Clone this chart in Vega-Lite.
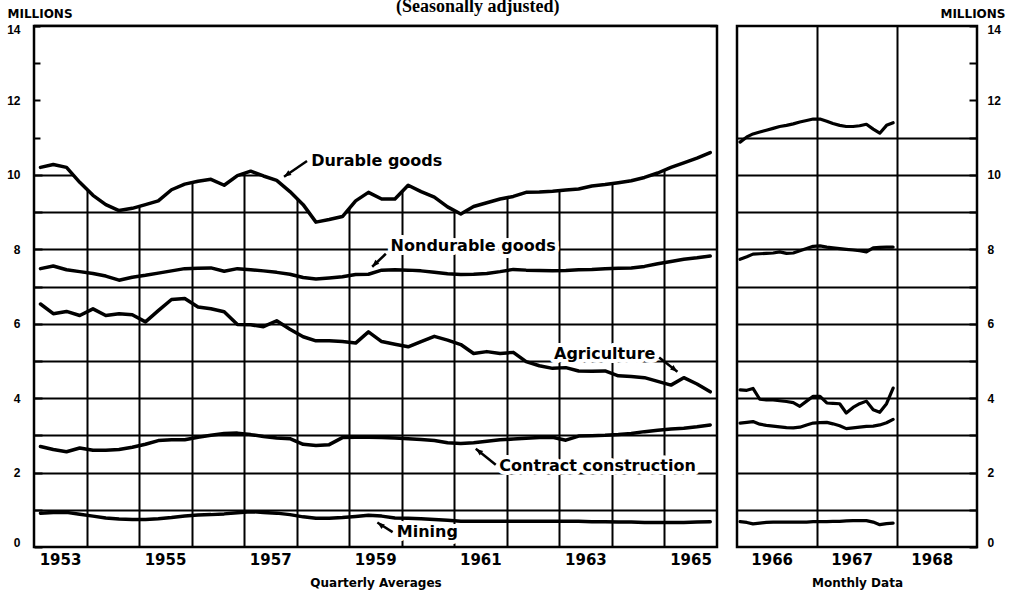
{
  "$schema": "https://vega.github.io/schema/vega-lite/v6.json",
  "padding": {"left": 5, "top": -3, "right": 5, "bottom": 0},
  "background": "white",
  "title": {"text": "(Seasonally adjusted)", "font": "Liberation Serif", "fontSize": 18, "fontWeight": "bold", "color": "black", "anchor": "middle", "offset": -10, "dx": -28},
  "spacing": 15,
  "datasets": {
    "quarterly": [
      {"d": "1953-02-15", "Durable goods": 10.2, "Nondurable goods": 7.48, "Agriculture": 6.53, "Contract construction": 2.70, "Mining": 0.91},
      {"d": "1953-05-15", "Durable goods": 10.28, "Nondurable goods": 7.55, "Agriculture": 6.27, "Contract construction": 2.62, "Mining": 0.93},
      {"d": "1953-08-15", "Durable goods": 10.2, "Nondurable goods": 7.45, "Agriculture": 6.33, "Contract construction": 2.56, "Mining": 0.93},
      {"d": "1953-11-15", "Durable goods": 9.8, "Nondurable goods": 7.4, "Agriculture": 6.22, "Contract construction": 2.66, "Mining": 0.88},
      {"d": "1954-02-15", "Durable goods": 9.45, "Nondurable goods": 7.35, "Agriculture": 6.4, "Contract construction": 2.6, "Mining": 0.83},
      {"d": "1954-05-15", "Durable goods": 9.2, "Nondurable goods": 7.28, "Agriculture": 6.22, "Contract construction": 2.6, "Mining": 0.78},
      {"d": "1954-08-15", "Durable goods": 9.04, "Nondurable goods": 7.17, "Agriculture": 6.27, "Contract construction": 2.62, "Mining": 0.75},
      {"d": "1954-11-15", "Durable goods": 9.1, "Nondurable goods": 7.25, "Agriculture": 6.24, "Contract construction": 2.68, "Mining": 0.74},
      {"d": "1955-02-15", "Durable goods": 9.2, "Nondurable goods": 7.3, "Agriculture": 6.05, "Contract construction": 2.76, "Mining": 0.74},
      {"d": "1955-05-15", "Durable goods": 9.3, "Nondurable goods": 7.36, "Agriculture": 6.35, "Contract construction": 2.86, "Mining": 0.76},
      {"d": "1955-08-15", "Durable goods": 9.6, "Nondurable goods": 7.42, "Agriculture": 6.65, "Contract construction": 2.88, "Mining": 0.79},
      {"d": "1955-11-15", "Durable goods": 9.75, "Nondurable goods": 7.48, "Agriculture": 6.68, "Contract construction": 2.88, "Mining": 0.83},
      {"d": "1956-02-15", "Durable goods": 9.83, "Nondurable goods": 7.49, "Agriculture": 6.45, "Contract construction": 2.95, "Mining": 0.86},
      {"d": "1956-05-15", "Durable goods": 9.88, "Nondurable goods": 7.5, "Agriculture": 6.4, "Contract construction": 3.0, "Mining": 0.87},
      {"d": "1956-08-15", "Durable goods": 9.72, "Nondurable goods": 7.41, "Agriculture": 6.32, "Contract construction": 3.05, "Mining": 0.89},
      {"d": "1956-11-15", "Durable goods": 9.98, "Nondurable goods": 7.48, "Agriculture": 5.98, "Contract construction": 3.06, "Mining": 0.92},
      {"d": "1957-02-15", "Durable goods": 10.1, "Nondurable goods": 7.45, "Agriculture": 5.97, "Contract construction": 3.02, "Mining": 0.95},
      {"d": "1957-05-15", "Durable goods": 9.97, "Nondurable goods": 7.42, "Agriculture": 5.92, "Contract construction": 2.97, "Mining": 0.93},
      {"d": "1957-08-15", "Durable goods": 9.85, "Nondurable goods": 7.38, "Agriculture": 6.08, "Contract construction": 2.93, "Mining": 0.91},
      {"d": "1957-11-15", "Durable goods": 9.55, "Nondurable goods": 7.33, "Agriculture": 5.85, "Contract construction": 2.91, "Mining": 0.87},
      {"d": "1958-02-15", "Durable goods": 9.2, "Nondurable goods": 7.24, "Agriculture": 5.65, "Contract construction": 2.76, "Mining": 0.81},
      {"d": "1958-05-15", "Durable goods": 8.73, "Nondurable goods": 7.2, "Agriculture": 5.54, "Contract construction": 2.73, "Mining": 0.77},
      {"d": "1958-08-15", "Durable goods": 8.8, "Nondurable goods": 7.23, "Agriculture": 5.54, "Contract construction": 2.75, "Mining": 0.77},
      {"d": "1958-11-15", "Durable goods": 8.88, "Nondurable goods": 7.26, "Agriculture": 5.52, "Contract construction": 2.94, "Mining": 0.79},
      {"d": "1959-02-15", "Durable goods": 9.3, "Nondurable goods": 7.32, "Agriculture": 5.48, "Contract construction": 2.95, "Mining": 0.82},
      {"d": "1959-05-15", "Durable goods": 9.53, "Nondurable goods": 7.33, "Agriculture": 5.78, "Contract construction": 2.95, "Mining": 0.85},
      {"d": "1959-08-15", "Durable goods": 9.35, "Nondurable goods": 7.44, "Agriculture": 5.52, "Contract construction": 2.94, "Mining": 0.83},
      {"d": "1959-11-15", "Durable goods": 9.35, "Nondurable goods": 7.45, "Agriculture": 5.45, "Contract construction": 2.93, "Mining": 0.78},
      {"d": "1960-02-15", "Durable goods": 9.72, "Nondurable goods": 7.44, "Agriculture": 5.38, "Contract construction": 2.91, "Mining": 0.77},
      {"d": "1960-05-15", "Durable goods": 9.55, "Nondurable goods": 7.42, "Agriculture": 5.52, "Contract construction": 2.89, "Mining": 0.76},
      {"d": "1960-08-15", "Durable goods": 9.4, "Nondurable goods": 7.38, "Agriculture": 5.66, "Contract construction": 2.86, "Mining": 0.74},
      {"d": "1960-11-15", "Durable goods": 9.14, "Nondurable goods": 7.34, "Agriculture": 5.56, "Contract construction": 2.8, "Mining": 0.72},
      {"d": "1961-02-15", "Durable goods": 8.95, "Nondurable goods": 7.32, "Agriculture": 5.44, "Contract construction": 2.78, "Mining": 0.69},
      {"d": "1961-05-15", "Durable goods": 9.15, "Nondurable goods": 7.33, "Agriculture": 5.2, "Contract construction": 2.8, "Mining": 0.69},
      {"d": "1961-08-15", "Durable goods": 9.25, "Nondurable goods": 7.35, "Agriculture": 5.25, "Contract construction": 2.84, "Mining": 0.69},
      {"d": "1961-11-15", "Durable goods": 9.35, "Nondurable goods": 7.4, "Agriculture": 5.2, "Contract construction": 2.88, "Mining": 0.69},
      {"d": "1962-02-15", "Durable goods": 9.42, "Nondurable goods": 7.46, "Agriculture": 5.23, "Contract construction": 2.9, "Mining": 0.69},
      {"d": "1962-05-15", "Durable goods": 9.53, "Nondurable goods": 7.44, "Agriculture": 4.98, "Contract construction": 2.92, "Mining": 0.69},
      {"d": "1962-08-15", "Durable goods": 9.54, "Nondurable goods": 7.43, "Agriculture": 4.87, "Contract construction": 2.94, "Mining": 0.69},
      {"d": "1962-11-15", "Durable goods": 9.56, "Nondurable goods": 7.42, "Agriculture": 4.8, "Contract construction": 2.95, "Mining": 0.69},
      {"d": "1963-02-15", "Durable goods": 9.59, "Nondurable goods": 7.43, "Agriculture": 4.82, "Contract construction": 2.87, "Mining": 0.69},
      {"d": "1963-05-15", "Durable goods": 9.62, "Nondurable goods": 7.45, "Agriculture": 4.73, "Contract construction": 2.98, "Mining": 0.69},
      {"d": "1963-08-15", "Durable goods": 9.7, "Nondurable goods": 7.46, "Agriculture": 4.72, "Contract construction": 2.99, "Mining": 0.68},
      {"d": "1963-11-15", "Durable goods": 9.74, "Nondurable goods": 7.48, "Agriculture": 4.73, "Contract construction": 3.0, "Mining": 0.68},
      {"d": "1964-02-15", "Durable goods": 9.79, "Nondurable goods": 7.49, "Agriculture": 4.6, "Contract construction": 3.02, "Mining": 0.67},
      {"d": "1964-05-15", "Durable goods": 9.84, "Nondurable goods": 7.5, "Agriculture": 4.58, "Contract construction": 3.05, "Mining": 0.67},
      {"d": "1964-08-15", "Durable goods": 9.93, "Nondurable goods": 7.54, "Agriculture": 4.55, "Contract construction": 3.1, "Mining": 0.66},
      {"d": "1964-11-15", "Durable goods": 10.05, "Nondurable goods": 7.61, "Agriculture": 4.45, "Contract construction": 3.14, "Mining": 0.66},
      {"d": "1965-02-15", "Durable goods": 10.2, "Nondurable goods": 7.67, "Agriculture": 4.35, "Contract construction": 3.17, "Mining": 0.66},
      {"d": "1965-05-15", "Durable goods": 10.32, "Nondurable goods": 7.73, "Agriculture": 4.55, "Contract construction": 3.19, "Mining": 0.66},
      {"d": "1965-08-15", "Durable goods": 10.45, "Nondurable goods": 7.77, "Agriculture": 4.38, "Contract construction": 3.23, "Mining": 0.67},
      {"d": "1965-11-15", "Durable goods": 10.6, "Nondurable goods": 7.82, "Agriculture": 4.17, "Contract construction": 3.28, "Mining": 0.68}
    ],
    "monthly": [
      {"d": "1966-01-15", "Durable goods": 10.88, "Nondurable goods": 7.73, "Agriculture": 4.22, "Contract construction": 3.33, "Mining": 0.68},
      {"d": "1966-02-15", "Durable goods": 11.02, "Nondurable goods": 7.8, "Agriculture": 4.21, "Contract construction": 3.35, "Mining": 0.66},
      {"d": "1966-03-15", "Durable goods": 11.1, "Nondurable goods": 7.87, "Agriculture": 4.26, "Contract construction": 3.37, "Mining": 0.62},
      {"d": "1966-04-15", "Durable goods": 11.15, "Nondurable goods": 7.88, "Agriculture": 3.97, "Contract construction": 3.3, "Mining": 0.64},
      {"d": "1966-05-15", "Durable goods": 11.2, "Nondurable goods": 7.89, "Agriculture": 3.95, "Contract construction": 3.27, "Mining": 0.66},
      {"d": "1966-06-15", "Durable goods": 11.25, "Nondurable goods": 7.9, "Agriculture": 3.95, "Contract construction": 3.25, "Mining": 0.67},
      {"d": "1966-07-15", "Durable goods": 11.3, "Nondurable goods": 7.93, "Agriculture": 3.93, "Contract construction": 3.23, "Mining": 0.67},
      {"d": "1966-08-15", "Durable goods": 11.33, "Nondurable goods": 7.89, "Agriculture": 3.91, "Contract construction": 3.21, "Mining": 0.67},
      {"d": "1966-09-15", "Durable goods": 11.37, "Nondurable goods": 7.9, "Agriculture": 3.88, "Contract construction": 3.2, "Mining": 0.67},
      {"d": "1966-10-15", "Durable goods": 11.42, "Nondurable goods": 7.96, "Agriculture": 3.78, "Contract construction": 3.22, "Mining": 0.67},
      {"d": "1966-11-15", "Durable goods": 11.46, "Nondurable goods": 8.02, "Agriculture": 3.92, "Contract construction": 3.28, "Mining": 0.67},
      {"d": "1966-12-15", "Durable goods": 11.5, "Nondurable goods": 8.08, "Agriculture": 4.05, "Contract construction": 3.33, "Mining": 0.68},
      {"d": "1967-01-15", "Durable goods": 11.5, "Nondurable goods": 8.09, "Agriculture": 4.05, "Contract construction": 3.34, "Mining": 0.68},
      {"d": "1967-02-15", "Durable goods": 11.44, "Nondurable goods": 8.06, "Agriculture": 3.87, "Contract construction": 3.35, "Mining": 0.68},
      {"d": "1967-03-15", "Durable goods": 11.38, "Nondurable goods": 8.04, "Agriculture": 3.86, "Contract construction": 3.31, "Mining": 0.69},
      {"d": "1967-04-15", "Durable goods": 11.33, "Nondurable goods": 8.02, "Agriculture": 3.85, "Contract construction": 3.26, "Mining": 0.69},
      {"d": "1967-05-15", "Durable goods": 11.3, "Nondurable goods": 8.0, "Agriculture": 3.6, "Contract construction": 3.18, "Mining": 0.7},
      {"d": "1967-06-15", "Durable goods": 11.3, "Nondurable goods": 7.98, "Agriculture": 3.75, "Contract construction": 3.2, "Mining": 0.71},
      {"d": "1967-07-15", "Durable goods": 11.32, "Nondurable goods": 7.96, "Agriculture": 3.85, "Contract construction": 3.22, "Mining": 0.71},
      {"d": "1967-08-15", "Durable goods": 11.36, "Nondurable goods": 7.93, "Agriculture": 3.92, "Contract construction": 3.24, "Mining": 0.71},
      {"d": "1967-09-15", "Durable goods": 11.23, "Nondurable goods": 8.04, "Agriculture": 3.69, "Contract construction": 3.25, "Mining": 0.67},
      {"d": "1967-10-15", "Durable goods": 11.12, "Nondurable goods": 8.05, "Agriculture": 3.62, "Contract construction": 3.28, "Mining": 0.6},
      {"d": "1967-11-15", "Durable goods": 11.33, "Nondurable goods": 8.06, "Agriculture": 3.85, "Contract construction": 3.34, "Mining": 0.63},
      {"d": "1967-12-15", "Durable goods": 11.4, "Nondurable goods": 8.06, "Agriculture": 4.27, "Contract construction": 3.43, "Mining": 0.64}
    ],
    "notes": [
      {"label": "Durable goods", "d": "1958-04-12", "v": 10.37, "td": "1958-03-14", "tv": 10.37, "hd": "1957-10-05", "hv": 9.95},
      {"label": "Nondurable goods", "d": "1959-10-16", "v": 8.1, "td": "1959-09-13", "tv": 7.88, "hd": "1959-06-10", "hv": 7.53},
      {"label": "Agriculture", "d": "1962-11-25", "v": 5.18, "td": "1964-11-25", "tv": 5.09, "hd": "1965-04-01", "hv": 4.71},
      {"label": "Contract construction", "d": "1961-11-10", "v": 2.18, "td": "1961-10-16", "tv": 2.21, "hd": "1961-05-30", "hv": 2.64},
      {"label": "Mining", "d": "1959-11-28", "v": 0.4, "td": "1959-10-30", "tv": 0.4, "hd": "1959-07-16", "hv": 0.66}
    ]
  },
  "hconcat": [
    {
      "width": 683,
      "height": 521,
      "layer": [
        {
          "data": {"name": "quarterly"},
          "mark": {"type": "area", "color": "white", "opacity": 1},
          "encoding": {
            "x": {
              "field": "d", "type": "temporal",
              "scale": {"type": "utc", "domain": [{"year": 1953, "month": 1, "date": 1, "utc": true}, {"year": 1966, "month": 1, "date": 1, "utc": true}]},
              "axis": {
                "values": [
                  {"year": 1953, "month": 7, "date": 1, "utc": true},
                  {"year": 1954, "month": 1, "date": 1, "utc": true}, {"year": 1955, "month": 1, "date": 1, "utc": true},
                  {"year": 1955, "month": 7, "date": 1, "utc": true},
                  {"year": 1956, "month": 1, "date": 1, "utc": true}, {"year": 1957, "month": 1, "date": 1, "utc": true},
                  {"year": 1957, "month": 7, "date": 1, "utc": true},
                  {"year": 1958, "month": 1, "date": 1, "utc": true}, {"year": 1959, "month": 1, "date": 1, "utc": true},
                  {"year": 1959, "month": 7, "date": 1, "utc": true},
                  {"year": 1960, "month": 1, "date": 1, "utc": true}, {"year": 1961, "month": 1, "date": 1, "utc": true},
                  {"year": 1961, "month": 7, "date": 1, "utc": true},
                  {"year": 1962, "month": 1, "date": 1, "utc": true}, {"year": 1963, "month": 1, "date": 1, "utc": true},
                  {"year": 1963, "month": 7, "date": 1, "utc": true},
                  {"year": 1964, "month": 1, "date": 1, "utc": true}, {"year": 1965, "month": 1, "date": 1, "utc": true},
                  {"year": 1965, "month": 7, "date": 1, "utc": true}
                ],
                "tickCount": 60,
                "ticks": false,
                "domain": false,
                "grid": true,
                "gridColor": "black",
                "gridWidth": 2,
                "gridOpacity": {"condition": {"test": "utcmonth(datum.value) != 0", "value": 0}, "value": 1},
                "labelExpr": "utcmonth(datum.value) == 6 ? utcFormat(datum.value, '%Y') : ''",
                "labelFont": "DejaVu Sans", "labelFontSize": 15, "labelFontWeight": "bold", "labelColor": "black",
                "labelPadding": 5, "labelOverlap": false, "labelFlush": false,
                "title": "Quarterly Averages",
                "titleFont": "DejaVu Sans", "titleFontSize": 12, "titleFontWeight": "bold", "titleColor": "black",
                "titlePadding": 10
              }
            },
            "y": {
              "field": "Durable goods", "type": "quantitative",
              "scale": {"domain": [0, 14], "nice": false, "zero": true},
              "axis": {
                "orient": "left",
                "values": [0, 1, 2, 3, 4, 5, 6, 7, 8, 9, 10, 11, 12, 13, 14],
                "tickCount": 60,
                "domain": false,
                "grid": true,
                "gridColor": "black",
                "gridWidth": 2,
                "gridOpacity": {"condition": {"test": "datum.value > 10 || datum.value == 0", "value": 0}, "value": 1},
                "tickSize": -8, "tickWidth": 2, "tickColor": "black",
                "labelExpr": "datum.value % 2 == 0 ? format(datum.value, 'd') : ''",
                "labelFont": "Liberation Sans", "labelFontSize": 12, "labelFontWeight": "bold", "labelColor": "black",
                "labelPadding": 22, "labelFlush": true, "labelFlushOffset": 2, "labelOverlap": false,
                "title": "MILLIONS",
                "titleAngle": 0, "titleAlign": "left", "titleBaseline": "middle",
                "titleX": -27, "titleY": -13,
                "titleFont": "DejaVu Sans", "titleFontSize": 12, "titleFontWeight": "bold", "titleColor": "black"
              }
            },
            "y2": {"datum": 14}
          }
        },
        {
          "data": {"name": "notes"},
          "mark": {"type": "text", "align": "left", "baseline": "middle", "font": "DejaVu Sans", "fontSize": 16, "fontWeight": "bold", "stroke": "white", "strokeWidth": 8, "strokeJoin": "round", "fill": "white"},
          "encoding": {
            "x": {"field": "d", "type": "temporal"},
            "y": {"field": "v", "type": "quantitative"},
            "text": {"field": "label"}
          }
        },
        {
          "data": {"name": "notes"},
          "mark": {"type": "text", "align": "left", "baseline": "middle", "font": "DejaVu Sans", "fontSize": 16, "fontWeight": "bold", "fill": "black"},
          "encoding": {
            "x": {"field": "d", "type": "temporal"},
            "y": {"field": "v", "type": "quantitative"},
            "text": {"field": "label"}
          }
        },
        {
          "data": {"name": "notes"},
          "mark": {"type": "rule", "color": "black", "strokeWidth": 2.5},
          "encoding": {
            "x": {"field": "td", "type": "temporal"},
            "y": {"field": "tv", "type": "quantitative"},
            "x2": {"field": "hd"},
            "y2": {"field": "hv"}
          }
        },
        {
          "data": {"name": "notes"},
          "transform": [{"filter": "datum.label == 'Durable goods'"}],
          "mark": {"type": "point", "shape": "M0,0L0.7,1.8L-0.7,1.8Z", "filled": true, "color": "black", "opacity": 1, "size": 64, "angle": 235},
          "encoding": {"x": {"field": "hd", "type": "temporal"}, "y": {"field": "hv", "type": "quantitative"}}
        },
        {
          "data": {"name": "notes"},
          "transform": [{"filter": "datum.label == 'Nondurable goods'"}],
          "mark": {"type": "point", "shape": "M0,0L0.7,1.8L-0.7,1.8Z", "filled": true, "color": "black", "opacity": 1, "size": 64, "angle": 225},
          "encoding": {"x": {"field": "hd", "type": "temporal"}, "y": {"field": "hv", "type": "quantitative"}}
        },
        {
          "data": {"name": "notes"},
          "transform": [{"filter": "datum.label == 'Agriculture'"}],
          "mark": {"type": "point", "shape": "M0,0L0.7,1.8L-0.7,1.8Z", "filled": true, "color": "black", "opacity": 1, "size": 64, "angle": 128},
          "encoding": {"x": {"field": "hd", "type": "temporal"}, "y": {"field": "hv", "type": "quantitative"}}
        },
        {
          "data": {"name": "notes"},
          "transform": [{"filter": "datum.label == 'Contract construction'"}],
          "mark": {"type": "point", "shape": "M0,0L0.7,1.8L-0.7,1.8Z", "filled": true, "color": "black", "opacity": 1, "size": 64, "angle": 308},
          "encoding": {"x": {"field": "hd", "type": "temporal"}, "y": {"field": "hv", "type": "quantitative"}}
        },
        {
          "data": {"name": "notes"},
          "transform": [{"filter": "datum.label == 'Mining'"}],
          "mark": {"type": "point", "shape": "M0,0L0.7,1.8L-0.7,1.8Z", "filled": true, "color": "black", "opacity": 1, "size": 64, "angle": 306},
          "encoding": {"x": {"field": "hd", "type": "temporal"}, "y": {"field": "hv", "type": "quantitative"}}
        },
        {
          "data": {"name": "quarterly"},
          "transform": [{"fold": ["Durable goods", "Nondurable goods", "Agriculture", "Contract construction", "Mining"], "as": ["series", "value"]}],
          "mark": {"type": "line", "color": "black", "strokeWidth": 3.5, "strokeJoin": "round", "strokeCap": "round"},
          "encoding": {
            "x": {"field": "d", "type": "temporal"},
            "y": {"field": "value", "type": "quantitative"},
            "detail": {"field": "series"}
          }
        },
        {
          "data": {"values": [{}]},
          "mark": {"type": "rule", "color": "black", "strokeWidth": 2.5},
          "encoding": {"y": {"datum": 14}}
        }
      ]
    },
    {
      "width": 240,
      "height": 521,
      "data": {"name": "monthly"},
      "transform": [{"fold": ["Durable goods", "Nondurable goods", "Agriculture", "Contract construction", "Mining"], "as": ["series", "value"]}],
      "mark": {"type": "line", "color": "black", "strokeWidth": 3.2, "strokeJoin": "round", "strokeCap": "round"},
      "encoding": {
        "x": {
          "field": "d", "type": "temporal",
          "scale": {"type": "utc", "domain": [{"year": 1966, "month": 1, "date": 1, "utc": true}, {"year": 1969, "month": 1, "date": 1, "utc": true}]},
          "axis": {
            "values": [
              {"year": 1966, "month": 7, "date": 1, "utc": true},
              {"year": 1967, "month": 1, "date": 1, "utc": true},
              {"year": 1967, "month": 7, "date": 1, "utc": true},
              {"year": 1968, "month": 1, "date": 1, "utc": true},
              {"year": 1968, "month": 7, "date": 1, "utc": true}
            ],
            "tickCount": 60,
            "ticks": false,
            "domain": false,
            "grid": true,
            "gridColor": "black",
            "gridWidth": 2,
            "gridOpacity": {"condition": {"test": "utcmonth(datum.value) != 0", "value": 0}, "value": 1},
            "labelExpr": "utcmonth(datum.value) == 6 ? utcFormat(datum.value, '%Y') : ''",
            "labelFont": "DejaVu Sans", "labelFontSize": 15, "labelFontWeight": "bold", "labelColor": "black",
            "labelPadding": 5, "labelOverlap": false, "labelFlush": false, "labelOffset": -5,
            "title": "Monthly Data",
            "titleFont": "DejaVu Sans", "titleFontSize": 12, "titleFontWeight": "bold", "titleColor": "black",
            "titlePadding": 10
          }
        },
        "y": {
          "field": "value", "type": "quantitative",
          "scale": {"domain": [0, 14], "nice": false, "zero": true},
          "axis": {
            "orient": "right",
            "values": [0, 1, 2, 3, 4, 5, 6, 7, 8, 9, 10, 11, 12, 13, 14],
            "tickCount": 60,
            "domain": false,
            "grid": true,
            "gridColor": "black",
            "gridWidth": 2,
            "gridOpacity": {"condition": {"test": "datum.value > 11 || datum.value == 0", "value": 0}, "value": 1},
            "tickSize": -8, "tickWidth": 2, "tickColor": "black",
            "labelExpr": "datum.value % 2 == 0 ? format(datum.value, 'd') : ''",
            "labelFont": "Liberation Sans", "labelFontSize": 12, "labelFontWeight": "bold", "labelColor": "black",
            "labelPadding": 18, "labelFlush": true, "labelFlushOffset": 2, "labelOverlap": false, "labelAlign": "left",
            "title": "MILLIONS",
            "titleAngle": 0, "titleAlign": "right", "titleBaseline": "middle",
            "titleX": 28, "titleY": -13,
            "titleFont": "DejaVu Sans", "titleFontSize": 12, "titleFontWeight": "bold", "titleColor": "black"
          }
        },
        "detail": {"field": "series"}
      }
    }
  ],
  "config": {
    "view": {"stroke": "black", "strokeWidth": 2.5},
    "axis": {"gridCap": "butt"}
  }
}
